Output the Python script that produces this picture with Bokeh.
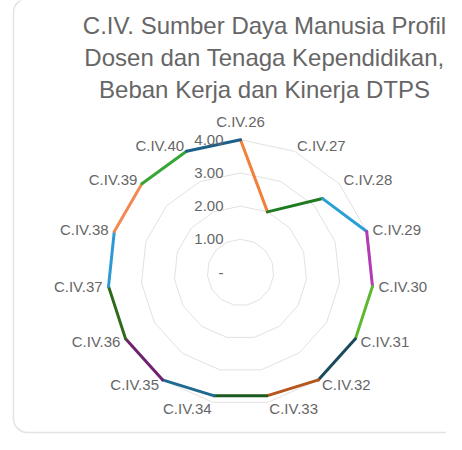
import numpy as np
from bokeh.plotting import figure
from bokeh.models import ColumnDataSource, Range1d
from bokeh.core.properties import value
from bokeh.embed import file_html
from bokeh.resources import INLINE

# ---------------- data ----------------
categories = ["C.IV.26", "C.IV.27", "C.IV.28", "C.IV.29", "C.IV.30",
              "C.IV.31", "C.IV.32", "C.IV.33", "C.IV.34", "C.IV.35",
              "C.IV.36", "C.IV.37", "C.IV.38", "C.IV.39", "C.IV.40"]
values = [4.0, 2.0, 3.33, 4.0, 4.0, 4.0, 4.0, 3.8, 3.8, 4.0, 4.0, 4.0, 4.0, 4.0, 4.0]
tick_values = [0, 1, 2, 3, 4]
tick_labels = ["-", "1.00", "2.00", "3.00", "4.00"]
segment_colors = ["#f2803a", "#1f7a22", "#2a9fd6", "#b23ab5", "#5cb82e",
                  "#1b4a5c", "#b5561c", "#1b5a1e", "#1f6b8f", "#6e2270",
                  "#2e6a1a", "#2d9ad6", "#f28a52", "#37a637", "#1d5f8a"]
title_lines = ["C.IV. Sumber Daya Manusia Profil",
               "Dosen dan Tenaga Kependidikan,",
               "Beban Kerja dan Kinerja DTPS"]
r_max = 4

# ---------------- layout ----------------
W, H = 446, 434
CX, CY = 240, 272       # radar centre in picture px
R_PX = 132.7            # radius of r_max in px
S = R_PX / r_max
FONT = value("Liberation Sans")
TXT = "#666666"

def dx(px):
    return (px - CX) / S

def dy(py):
    return (CY - py) / S

p = figure(width=W, height=H, output_backend="svg", toolbar_location=None,
           x_range=Range1d(dx(0), dx(W)),
           y_range=Range1d(dy(H), dy(0)),
           x_axis_location=None, y_axis_location=None,
           min_border=0, outline_line_color=None)
p.grid.grid_line_color = None
p.background_fill_color = "white"
p.border_fill_color = "white"

# card
p.quad(left=dx(13), right=dx(470), top=dy(-2), bottom=dy(432),
       fill_color="white", line_color="#e3e3e3", line_width=1.5,
       border_radius=14)

# title
p.text(x=[dx(264)] * 3, y=[dy(25), dy(57), dy(89)], text=title_lines,
       text_align="center", text_baseline="middle", text_font=FONT,
       text_font_size="24px", text_color=TXT)

n = len(categories)
theta = 2 * np.pi * np.arange(n) / n
sx, cy_ = np.sin(theta), np.cos(theta)

# grid polygons
gx = [list(np.append(t * sx, t * sx[0])) for t in tick_values[1:]]
gy = [list(np.append(t * cy_, t * cy_[0])) for t in tick_values[1:]]
p.multi_line(xs=gx, ys=gy, line_color="#e2e2e2", line_width=1)

# data segments
v = np.array(values)
px_, py_ = v * sx, v * cy_
seg = ColumnDataSource(dict(x0=px_, y0=py_, x1=np.roll(px_, -1), y1=np.roll(py_, -1),
                            c=segment_colors))
p.segment(x0="x0", y0="y0", x1="x1", y1="y1", line_color="c", line_width=3,
          line_cap="round", source=seg)

# point labels
pad = 6
for align, mask in (("center", np.abs(sx) < 1e-6),
                    ("left", sx > 1e-6),
                    ("right", sx < -1e-6)):
    idx = np.where(mask)[0]
    if len(idx) == 0:
        continue
    xo = pad * sx[idx]
    yo = -pad * cy_[idx] - np.where(idx == 0, 12, 0)
    src = ColumnDataSource(dict(x=r_max * sx[idx], y=r_max * cy_[idx],
                                t=[categories[i] for i in idx], xo=xo, yo=yo))
    p.text(x="x", y="y", text="t", x_offset="xo", y_offset="yo", source=src,
           text_align=align, text_baseline="middle", text_font=FONT,
           text_font_size="15px", text_color=TXT)

# tick labels
p.text(x=[0] * len(tick_values), y=tick_values, text=tick_labels, x_offset=-17,
       text_align="right", text_baseline="middle", text_font=FONT,
       text_font_size="15px", text_color=TXT)

open("out.html", "w").write(file_html(p, INLINE))
